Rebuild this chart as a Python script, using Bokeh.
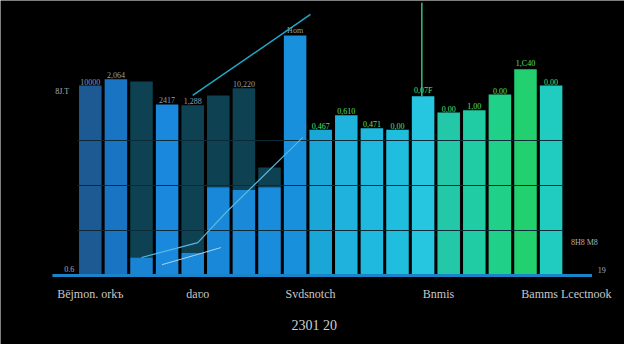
from bokeh.plotting import figure
from bokeh.models import ColumnDataSource, Range1d
from bokeh.core.properties import value
from bokeh.embed import file_html
from bokeh.resources import INLINE

# ---- data ----
bars = list(range(19))
lower = [42.2, 43.6, 4.0, 38.0, 5.0, 19.6, 19.0, 19.6, 53.3, 32.4, 35.6, 32.7, 32.4, 39.8, 36.2, 36.7, 40.2, 45.8, 42.2]
total = [42.2, 43.6, 43.1, 38.0, 37.8, 40.0, 41.6, 24.0, 53.3, 32.4, 35.6, 32.7, 32.4, 39.8, 36.2, 36.7, 40.2, 45.8, 42.2]
bar_labels = ["10000", "2,064", "", "2417", "1,288", "", "10,220", "", "Hom", "0,467", "0,610", "0,471", "0,00", "0,07F", "0,00", "1,00", "0,00", "1,C40", "0,00"]
grid_values = [10, 20, 30]
group_x = [0.0, 4.2, 8.6, 13.6, 18.6]
group_labels = ["Bējmon. orkъ", "daʋo", "Svdsnotch", "Bnmis", "Bamms Lcectnook"]
line_a_x = [4.0, 8.6]
line_a_y = [40.0, 58.0]
line_b_x = [2.0, 4.2, 5.3, 8.3]
line_b_y = [4.0, 7.3, 14.0, 30.7]
line_c_x = [2.8, 4.2, 5.1]
line_c_y = [2.4, 4.7, 6.2]
spike_x = [12.95, 12.95]
spike_y = [39.8, 60.6]
title_text = "2301 20"

# ---- styles ----
lower_colors = ["#1d5a93", "#1a74c4", "#1a84d4", "#1a88dc", "#1a88d8", "#1a88d8", "#1a8ad8", "#1a8cdc",
                "#1990dc", "#1ba6d8", "#1fb2dc", "#1fb8de", "#20bede", "#26c6e0", "#22c8a8", "#20cca4",
                "#20d088", "#22d070", "#20ccc0"]
label_colors = ["#8aa0b0"] * 9 + ["#50e070"] * 10

W, H = 624, 344
p = figure(width=W, height=H, output_backend="svg", toolbar_location=None,
           x_range=Range1d(-3.508, 20.867), y_range=Range1d(-15.33, 61.1),
           min_border=0, background_fill_color="black", border_fill_color="black",
           outline_line_color=None)
p.axis.visible = False
p.grid.visible = False

src = ColumnDataSource(dict(x=bars, lower=lower, total=total, c=lower_colors,
                            lab=bar_labels, lc=label_colors))
p.vbar(x="x", bottom="lower", top="total", width=0.88, fill_color="#0e4252",
       line_color=None, source=src)
p.vbar(x="x", bottom=0, top="lower", width=0.88, fill_color="c", line_color=None, source=src)

# grid lines across the bar span only
p.segment(x0=[bars[0] - 0.5] * len(grid_values), x1=[bars[-1] + 0.5] * len(grid_values),
          y0=grid_values, y1=grid_values, line_color="#0a2a38", line_width=1.2)

p.text(x="x", y="total", text="lab", text_color="lc", text_font=value("Liberation Serif"),
       text_font_size="8px", text_align="center", text_baseline="bottom", y_offset=-1, source=src)

# baseline
p.line(x=[-1.48, 19.6], y=[0, 0], line_color="#1a84c8", line_width=3)

p.line(x=line_a_x, y=line_a_y, line_color="#22a8c8", line_width=1.5)
p.line(x=line_b_x, y=line_b_y, line_color="#58b8e0", line_width=1.2)
p.line(x=line_c_x, y=line_c_y, line_color="#a8d4f0", line_width=1)
p.line(x=spike_x, y=spike_y, line_color="#30c080", line_width=1.5)

p.text(x=group_x, y=[-2.5] * 5, text=group_labels, text_color="#c8c8c8",
       text_font=value("Liberation Serif"), text_font_size="12px", text_align="center",
       text_baseline="top")
p.text(x=[8.75], y=[-9.5], text=[title_text], text_color="#d0d0d0",
       text_font=value("Liberation Serif"), text_font_size="14px", text_align="center",
       text_baseline="top")
p.text(x=[-1.1, -0.82, 19.3, 19.98], y=[39.8, 0.8, 6.3, 0.5],
       text=["8J.T", "0.6", "8H8 M8", "19"], text_color="#b0b0b0",
       text_font=value("Liberation Serif"), text_font_size="8px", text_align="center",
       text_baseline="bottom")

open("out.html", "w").write(file_html(p, INLINE))
